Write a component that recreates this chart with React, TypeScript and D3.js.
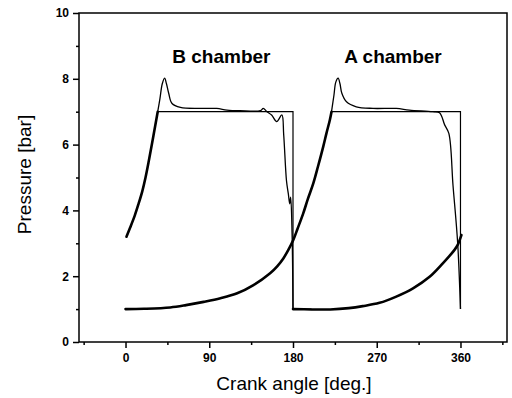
import { useEffect, useRef } from "react";
import * as d3 from "d3";

const width = 512;
const height = 398;
const margin = { top: 13, right: 5, bottom: 56, left: 79 };

type Pt = [number, number];

// compression branches, drawn thick (model and measurement overlap)
const bRise: Pt[] = [
  [1, 3.2], [5, 3.48], [10, 3.85], [14, 4.2], [18, 4.58], [21.5, 5.0], [25, 5.5],
  [30, 6.27], [34.6, 7.0],
];
const bLow: Pt[] = [
  [180, 1.0], [200, 0.99], [220, 0.99], [240, 1.03], [255, 1.09], [273, 1.19], [291, 1.38],
  [309, 1.63], [326.8, 1.98], [341, 2.39], [353.6, 2.8], [357, 2.95], [361, 3.25],
];
const aLow: Pt[] = [
  [0, 1.0], [20, 1.01], [48, 1.05], [65, 1.12], [84, 1.22], [102, 1.33], [120, 1.48],
  [137.5, 1.73], [155.4, 2.09], [163, 2.3], [169.6, 2.54], [175, 2.8], [180.3, 3.1],
  [185, 3.45], [191, 3.91], [196, 4.35], [201.8, 4.82], [207, 5.35], [212.5, 5.94],
  [216, 6.35], [219.6, 6.75], [221.4, 7.0],
];

// measured chamber pressure (thin)
const bMeasured: Pt[] = [
  [34.6, 7.0], [37, 7.4], [39.5, 7.85], [42, 8.02], [44, 7.85], [46.4, 7.56], [50, 7.25], [59, 7.13],
  [80, 7.1], [98, 7.1], [109, 7.05], [123, 7.03], [145, 7.03], [148, 7.1], [152, 7.0], [157, 6.9],
  [162.5, 6.7], [168, 6.9], [170, 6.3], [173, 4.9], [175, 4.5], [176.5, 4.2], [177.5, 4.4],
  [179, 3.3], [180, 1.0],
];
const aMeasured: Pt[] = [
  [221.4, 7.0], [224, 7.5], [226, 7.9], [228.5, 8.02], [230.5, 7.85], [232.5, 7.56], [237.5, 7.3],
  [248, 7.15], [266, 7.1], [291, 7.1], [305, 7.05], [330, 7.0], [337.5, 6.97], [343, 6.6],
  [347.5, 6.34], [352, 4.75], [357, 3.0], [360, 1.0],
];

// ideal (square) pressure
const bIdeal: Pt[] = [[34.6, 7], [180, 7], [180, 1], [200, 1]];
const aIdeal: Pt[] = [[221.4, 7], [360, 7], [360, 1]];

const xTicks = [0, 90, 180, 270, 360];
const xMinor = [-45, 45, 135, 225, 315, 405];
const yTicks = [0, 2, 4, 6, 8, 10];
const yMinor = [1, 3, 5, 7, 9];

const labels = [
  { text: "B chamber", x: 103, y: 8.48 },
  { text: "A chamber", x: 287.5, y: 8.48 },
];

const font = "'Liberation Sans', Arial, Helvetica, sans-serif";

const x = d3.scaleLinear().domain([-50, 410]).range([margin.left, width - margin.right]);
const y = d3.scaleLinear().domain([0, 10]).range([height - margin.bottom, margin.top]);

const App = () => {
  const xAxisRef = useRef<SVGGElement>(null);
  const xMinorRef = useRef<SVGGElement>(null);
  const yAxisRef = useRef<SVGGElement>(null);
  const yMinorRef = useRef<SVGGElement>(null);

  useEffect(() => {
    const style = (g: d3.Selection<SVGGElement, unknown, null, undefined>) => {
      g.select(".domain").remove();
      g.selectAll("line").attr("stroke", "#000").attr("stroke-width", 1.5);
      g.selectAll("text")
        .attr("font-family", font)
        .attr("font-size", 12)
        .attr("font-weight", "bold")
        .attr("fill", "#000");
    };
    if (xAxisRef.current) {
      d3.select(xAxisRef.current)
        .call(d3.axisBottom(x).tickValues(xTicks).tickSize(6).tickPadding(5))
        .call(style);
    }
    if (xMinorRef.current) {
      d3.select(xMinorRef.current)
        .call(d3.axisBottom(x).tickValues(xMinor).tickSize(3).tickFormat(() => ""))
        .call(style);
    }
    if (yAxisRef.current) {
      d3.select(yAxisRef.current)
        .call(d3.axisLeft(y).tickValues(yTicks).tickSize(6).tickPadding(4))
        .call(style);
    }
    if (yMinorRef.current) {
      d3.select(yMinorRef.current)
        .call(d3.axisLeft(y).tickValues(yMinor).tickSize(3).tickFormat(() => ""))
        .call(style);
    }
  }, []);

  const smooth = d3
    .line<Pt>()
    .x((d) => x(d[0]))
    .y((d) => y(d[1]))
    .curve(d3.curveCatmullRom.alpha(0.5));
  const straight = d3
    .line<Pt>()
    .x((d) => x(d[0]))
    .y((d) => y(d[1]));

  const thick = [bRise, bLow, aLow];
  const thin = [bMeasured, aMeasured];
  const ideal = [bIdeal, aIdeal];

  return (
    <svg
      width={width}
      height={height}
      style={{ position: "absolute", left: 0, top: 0, background: "#fff" }}
    >
      <rect
        x={margin.left}
        y={margin.top}
        width={width - margin.left - margin.right}
        height={height - margin.top - margin.bottom}
        fill="none"
        stroke="#000"
        strokeWidth={1.5}
      />
      {ideal.map((d, i) => (
        <path key={"i" + i} d={straight(d) ?? undefined} fill="none" stroke="#000" strokeWidth={1.2} />
      ))}
      {thin.map((d, i) => (
        <path key={"m" + i} d={smooth(d) ?? undefined} fill="none" stroke="#000" strokeWidth={1.3} />
      ))}
      {thick.map((d, i) => (
        <path
          key={"t" + i}
          d={smooth(d) ?? undefined}
          fill="none"
          stroke="#000"
          strokeWidth={2.6}
          strokeLinecap="round"
        />
      ))}
      <g ref={xAxisRef} transform={`translate(0, ${height - margin.bottom})`} />
      <g ref={xMinorRef} transform={`translate(0, ${height - margin.bottom})`} />
      <g ref={yAxisRef} transform={`translate(${margin.left}, 0)`} />
      <g ref={yMinorRef} transform={`translate(${margin.left}, 0)`} />
      {labels.map((l) => (
        <text
          key={l.text}
          x={x(l.x)}
          y={y(l.y)}
          textAnchor="middle"
          fontFamily={font}
          fontWeight="bold"
          fontSize={19}
        >
          {l.text}
        </text>
      ))}
      <text
        x={(margin.left + width - margin.right) / 2 + 1}
        y={390}
        textAnchor="middle"
        fontFamily={font}
        fontSize={19}
      >
        Crank angle [deg.]
      </text>
      <text
        transform={`translate(31, ${(margin.top + height - margin.bottom) / 2 - 3}) rotate(-90)`}
        textAnchor="middle"
        fontFamily={font}
        fontSize={19}
      >
        Pressure [bar]
      </text>
    </svg>
  );
};

export default App;
